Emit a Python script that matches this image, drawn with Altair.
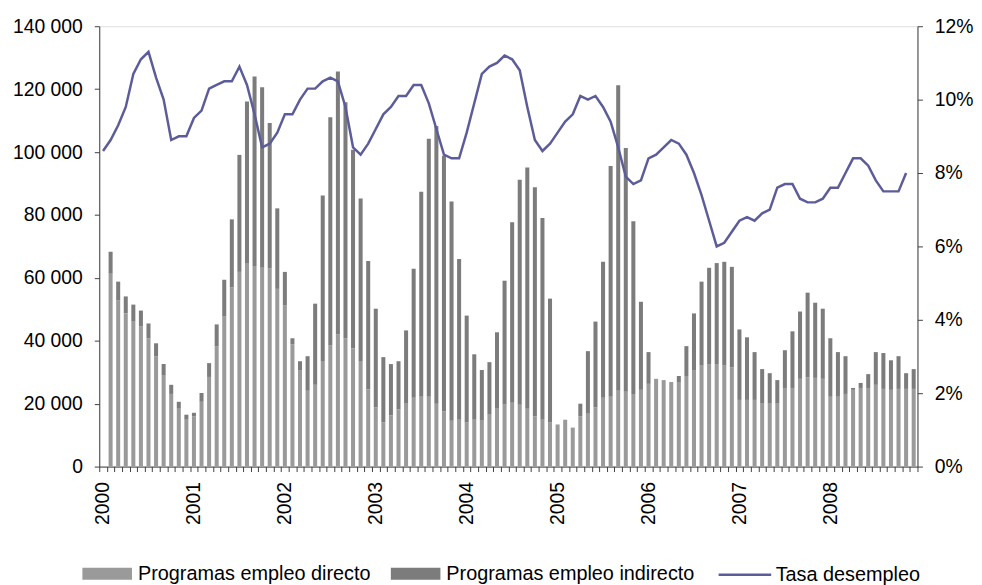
import altair as alt
import pandas as pd

years = list(range(2000, 2009))
months = [f"{y}-{m:02d}" for y in years for m in range(1, 13)]

series_names = ["Programas empleo directo", "Programas empleo indirecto"]
line_name = "Tasa desempleo"

# Bars: Feb 2000 .. Dec 2008 (no bar for Jan 2000)
direct = [61300, 52800, 48700, 46100, 44600, 40800, 35100, 29100, 23100, 18400, 14900,
          16000, 20600, 28500, 38300, 47700, 57000, 61900, 64700, 63800, 63200, 63000, 56500,
          51200, 38900, 30700, 24100, 26000, 33300, 38600, 42000, 40800, 37600, 33300, 24500,
          18800, 14100, 16300, 18200, 20000, 21900, 22200, 22200, 20000, 17500, 14600, 14900,
          14000, 14900, 14600, 16500, 18400, 19700, 20300, 19700, 18400, 16000, 14900, 14000,
          13400, 14900, 12400, 16000, 16800, 18800, 21900, 22200, 24100, 23800, 23100, 24400,
          26300, 27900, 27500, 26900, 26900, 28800, 30700, 32300, 32600, 32600, 32100, 31600,
          21200, 21200, 21200, 20000, 20000, 20000, 25000, 25000, 27900, 28400, 28200, 27900,
          22200, 22200, 23100, 24400, 25000, 25000, 26000, 24700, 24400, 24700, 24700, 24700]

indirect = [7000, 6000, 5400, 5400, 5000, 4700, 4100, 3500, 2900, 2200, 1600,
            1100, 2800, 4400, 6900, 11700, 21600, 37200, 51400, 60200, 57400, 46200, 25600,
            10700, 1900, 2800, 11000, 25800, 52900, 72500, 83600, 75000, 63100, 51900, 40900,
            31400, 20700, 16300, 15300, 23300, 41000, 65200, 82000, 88300, 81300, 69700, 51100,
            34000, 20800, 16100, 16700, 24300, 39400, 57400, 71500, 76700, 72800, 64100, 39400,
            0, 0, 0, 4000, 19900, 27300, 43200, 73400, 97100, 77500, 54900, 28000,
            10100, 0, 0, 0, 1900, 9500, 18000, 26500, 30600, 32100, 33000, 31900,
            22400, 19900, 15200, 11000, 9700, 7500, 12000, 18000, 21400, 26900, 23900, 22300,
            18600, 14200, 12000, 600, 1600, 4400, 10400, 11400, 9400, 10400, 5000, 6300]

# Unemployment rate (%): Jan 2000 .. Nov 2008
rate = [8.6, 8.9, 9.3, 9.8, 10.7, 11.1, 11.3, 10.6, 10.0, 8.9, 9.0, 9.0,
        9.5, 9.7, 10.3, 10.4, 10.5, 10.5, 10.9, 10.4, 9.6, 8.7, 8.8, 9.1,
        9.6, 9.6, 10.0, 10.3, 10.3, 10.5, 10.6, 10.5, 9.8, 8.7, 8.5, 8.8,
        9.2, 9.6, 9.8, 10.1, 10.1, 10.4, 10.4, 9.9, 9.2, 8.5, 8.4, 8.4,
        9.1, 9.9, 10.7, 10.9, 11.0, 11.2, 11.1, 10.8, 9.8, 8.9, 8.6, 8.8,
        9.1, 9.4, 9.6, 10.1, 10.0, 10.1, 9.8, 9.4, 8.7, 7.9, 7.7, 7.8,
        8.4, 8.5, 8.7, 8.9, 8.8, 8.5, 8.0, 7.4, 6.7, 6.0, 6.1, 6.4,
        6.7, 6.8, 6.7, 6.9, 7.0, 7.6, 7.7, 7.7, 7.3, 7.2, 7.2, 7.3,
        7.6, 7.6, 8.0, 8.4, 8.4, 8.2, 7.8, 7.5, 7.5, 7.5, 8.0]

bar_months = months[1:1 + len(direct)]
rows = []
for m, d, ind in zip(bar_months, direct, indirect):
    rows.append({"mes": m, "serie": series_names[0], "valor": d, "orden": 0})
    rows.append({"mes": m, "serie": series_names[1], "valor": ind, "orden": 1})
bars_df = pd.DataFrame(rows)
line_df = pd.DataFrame({"mes": months[:len(rate)], "tasa": rate, "serie": line_name})

FONT = "Liberation Sans"
AX = 19.5
AXCOL = "#404040"

x_enc = alt.X(
    "mes:O",
    scale=alt.Scale(domain=months, paddingInner=0, paddingOuter=0),
    axis=alt.Axis(
        title=None,
        labelExpr="substring(datum.value,5,7)=='01' ? substring(datum.value,0,4) : ''",
        labelAngle=270,
        labelOverlap=False,
        tickBand="extent",
        tickSize=5,
        labelPadding=10,
        labelFontSize=AX,
        labelFont=FONT,
        labelColor="#000000",
        domainColor=AXCOL,
        tickColor=AXCOL,
    ),
)

bars = alt.Chart(bars_df).mark_bar(width={"band": 0.53}).encode(
    x=x_enc,
    y=alt.Y(
        "valor:Q",
        stack="zero",
        scale=alt.Scale(domain=[0, 140000], nice=False),
        axis=alt.Axis(
            title=None,
            values=list(range(0, 140001, 20000)),
            labelExpr="replace(format(datum.value, ','), ',', ' ')",
            grid=False,
            tickSize=5,
            labelPadding=12,
            labelFontSize=AX,
            labelFont=FONT,
            labelColor="#000000",
            domainColor=AXCOL,
            tickColor=AXCOL,
        ),
    ),
    color=alt.Color(
        "serie:N",
        scale=alt.Scale(domain=series_names, range=["#9a9a9a", "#7c7c7c"]),
        legend=alt.Legend(
            title=None,
            orient="none",
            direction="horizontal",
            legendX=-17,
            legendY=527,
            padding=0,
            symbolType="M-1,-0.24H1V0.24H-1Z",
            symbolSize=2500,
            symbolStrokeWidth=0,
            labelFontSize=20,
            labelFont=FONT,
            labelColor="#000000",
            labelOffset=6,
            labelLimit=500,
            columnPadding=20,
        ),
    ),
    order=alt.Order("orden:Q", sort="ascending"),
)

line = alt.Chart(line_df).mark_line(strokeWidth=2.5).encode(
    x=x_enc,
    y=alt.Y(
        "tasa:Q",
        scale=alt.Scale(domain=[0, 12], nice=False),
        axis=alt.Axis(
            title=None,
            orient="right",
            values=[0, 2, 4, 6, 8, 10, 12],
            labelExpr="datum.value + '%'",
            grid=False,
            tickSize=5,
            labelPadding=12,
            labelFontSize=AX,
            labelFont=FONT,
            labelColor="#000000",
            domainColor=AXCOL,
            tickColor=AXCOL,
        ),
    ),
    stroke=alt.Stroke(
        "serie:N",
        scale=alt.Scale(domain=[line_name], range=["#5c5c9a"]),
        legend=alt.Legend(
            title=None,
            orient="none",
            direction="horizontal",
            legendX=623,
            legendY=525,
            padding=0,
            symbolType="stroke",
            symbolSize=2809,
            symbolStrokeWidth=2.5,
            labelFontSize=20,
            labelFont=FONT,
            labelColor="#000000",
            labelOffset=3,
            labelLimit=500,
        ),
    ),
)

chart = (
    alt.layer(bars, line)
    .resolve_scale(y="independent")
    .properties(
        width=825,
        height=444,
        autosize=alt.AutoSizeParams(type="none"),
        padding={"left": 92, "top": 16, "right": 57, "bottom": 117},
    )
    .configure_view(stroke=None)
    .configure(font=FONT)
)

chart.save("out.html", embed_options={"renderer": "svg", "actions": False})
